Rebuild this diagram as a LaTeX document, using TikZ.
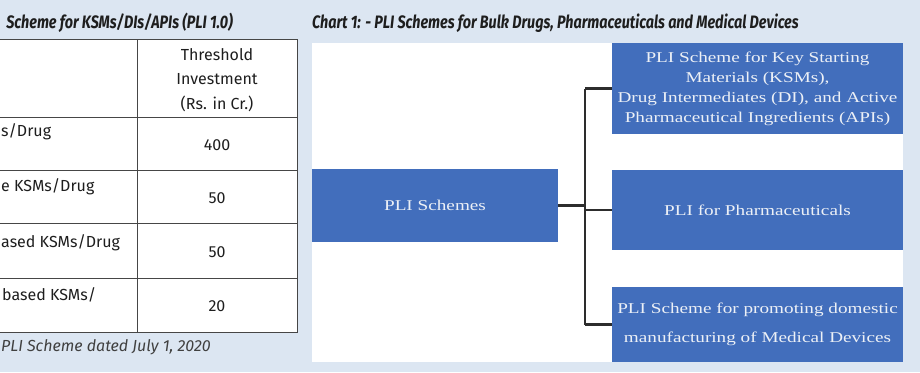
\documentclass[tikz,border=0pt]{standalone}
\usepackage{fontspec}
\setmainfont{Fira Sans}
\newfontfamily\condfont[FakeStretch=0.8]{Fira Sans}
\newfontfamily\chartfont[FakeStretch=1.28]{Liberation Serif}
\usepackage{xcolor}
\definecolor{PageBack}{RGB}{220,230,242}
\definecolor{BoxBlue}{RGB}{66,110,188}
\definecolor{BoxText}{RGB}{236,240,246}
\definecolor{LinkColor}{RGB}{45,45,45}
\definecolor{GridColor}{RGB}{70,70,70}
\definecolor{TextDark}{RGB}{30,30,30}
\usetikzlibrary{positioning}
\tikzset{
  % Blue scheme box
  pbox/.style={
    rectangle,
    fill=BoxBlue,
    text=BoxText,
    inner sep=0pt,
    align=center,
    font=\chartfont\fontsize{15}{20}\selectfont
  },
  % Connector of the chart
  link/.style={
    draw=LinkColor,
    line width=2.2pt
  },
  % Table rule
  grid/.style={
    draw=GridColor,
    line width=0.9pt
  },
  % Table cell text
  cell/.style={
    font=\fontsize{16}{24.5}\selectfont,
    text=TextDark,
    inner sep=0pt
  },
  % Heading above a panel
  ptitle/.style={
    font=\condfont\bfseries\itshape\fontsize{18}{20}\selectfont,
    text=TextDark,
    inner sep=0pt
  }
}

\begin{document}
\begin{tikzpicture}[x=1pt,y=-1pt]
  \useasboundingbox (0,0) rectangle (920,372);
  \fill[PageBack] (0,0) rectangle (920,372);
  % Headings
  \node[ptitle, anchor=east] (ttable) at (233,23) {Scheme for KSMs/DIs/APIs (PLI 1.0)};
  \node[ptitle, anchor=west] (tchart) at (312,23) {Chart 1: - PLI Schemes for Bulk Drugs, Pharmaceuticals and Medical Devices};
  % Table
  \fill[white] (0,39) rectangle (297,332);
  \draw[grid] (0,39) -- (297,39) -- (297,332) -- (0,332);
  \draw[grid] (137,39) -- (137,332);
  \foreach \y in {117,170,223,278} {
    \draw[grid] (0,\y) -- (297,\y);
  }
  \node[cell, align=center] (head) at (217,80) {Threshold\\Investment\\(Rs. in Cr.)};
  \node[cell, anchor=west] (item1) at (1,132) {s/Drug};
  \node[cell, anchor=west] (item2) at (1,187) {e KSMs/Drug};
  \node[cell, anchor=west] (item3) at (1,243) {ased KSMs/Drug};
  \node[cell, anchor=west] (item4) at (2,295) {based KSMs/};
  \foreach \v/\y [count=\i] in {400/145,50/198,50/252,20/306} {
    \node[cell] (val\i) at (217,\y) {\v};
  }
  \node[cell, anchor=west, font=\itshape\fontsize{16}{18}\selectfont, text=TextDark!85] (note) at (1,347) {PLI Scheme dated July 1, 2020};
  % Chart panel
  \fill[white] (312,43) rectangle (903,362);
  \node[pbox, minimum width=246pt, minimum height=73pt] (schemes) at (435,205.5) {PLI Schemes};
  \node[pbox, minimum width=291pt, minimum height=91pt] (ksm) at (757.5,88.5)
    {PLI Scheme for Key Starting\\Materials (KSMs),\\Drug Intermediates (DI), and Active\\Pharmaceutical Ingredients (APIs)};
  \node[pbox, minimum width=291pt, minimum height=80pt] (pharma) at (757.5,210) {PLI for Pharmaceuticals};
  \node[pbox, minimum width=291pt, minimum height=75pt] (meddev) at (757.5,324.5)
    {PLI Scheme for promoting domestic\\[9pt]manufacturing of Medical Devices};
  % Connectors
  \coordinate (bus) at (585,205.5);
  \draw[link] (schemes.east) -- (bus);
  \draw[link] (bus |- ksm.west) -- (bus |- meddev.west);
  \foreach \b in {ksm,pharma,meddev} {
    \draw[link] (bus |- \b.west) -- (\b.west);
  }
\end{tikzpicture}
\end{document}
